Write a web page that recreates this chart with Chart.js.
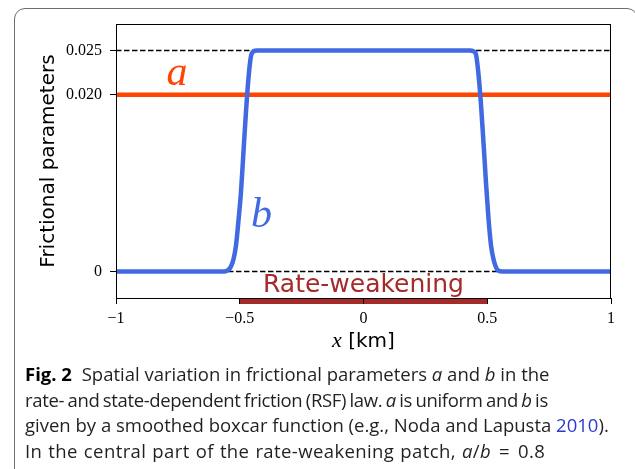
<!DOCTYPE html>
<html>
<head>
<meta charset="utf-8">
<script src="https://cdn.jsdelivr.net/npm/chart.js@4.4.0/dist/chart.umd.min.js"></script>
<style>
  html, body { margin: 0; padding: 0; background: #fff; }
  body { width: 635px; height: 469px; overflow: hidden; position: relative; }
  #frame { position: absolute; left: 14px; top: 8px; width: 622px; height: 540px;
           border: 1px solid #6e6e6e; border-radius: 11px; }
  #plot { position: absolute; left: 0; top: 0; }
  #caption { position: absolute; left: 25px; top: 361px; font-family: "Open Sans", sans-serif;
             font-size: 18.5px; line-height: 25.7px; color: #231f20; white-space: nowrap; }
  #caption b { font-weight: 700; color: #000; margin-right: 5px; }
  #caption .cite { color: #2b3bd0; }
  #caption .l2 { letter-spacing: -0.35px; word-spacing: -1px; }
  #caption .l4 { letter-spacing: 0.4px; word-spacing: 0.8px; }
  #caption .eq { display: inline-block; margin: 0 8px; }
</style>
</head>
<body>
<div id="frame"></div>
<canvas id="plot" width="635" height="469"></canvas>
<div id="caption">
  <div><b>Fig. 2</b> Spatial variation in frictional parameters <i>a</i> and <i>b</i> in the</div>
  <div class="l2">rate- and state-dependent friction (RSF) law. <i>a</i> is uniform and <i>b</i> is</div>
  <div>given by a smoothed boxcar function (e.g., Noda and Lapusta <span class="cite">2010</span>).</div>
  <div class="l4">In the central part of the rate-weakening patch, <i>a</i>/<i>b</i><span class="eq">=</span>0.8</div>
</div>
<script>
// b along the fault (smoothed boxcar), x in km
let x_km = [-1, -0.56, -0.545, -0.535, -0.525, -0.515, -0.505, -0.495, -0.485, -0.475, -0.465, -0.455, -0.445, -0.43,
            0, 0.43, 0.445, 0.455, 0.465, 0.475, 0.485, 0.495, 0.505, 0.515, 0.525, 0.535, 0.545, 0.56, 1];
let b_val = [0, 0, 0.0002, 0.0006, 0.0014, 0.0030, 0.0058, 0.0090, 0.0135, 0.0180, 0.0218, 0.0243, 0.0249, 0.025,
             0.025, 0.025, 0.0249, 0.0245, 0.0222, 0.0188, 0.0145, 0.0100, 0.0060, 0.0030, 0.0014, 0.0005, 0.0001, 0, 0];

// a is uniform
let a_x = [-1, 1];
let a_val = [0.02, 0.02];

// dashed reference levels
let ref_x = [-1, 1];
let ref_levels = [0.025, 0];

// rate-weakening patch
let patch_km = [-0.5, 0.5];

let y_ticks = [0, 0.020, 0.025];
let y_tick_labels = ['0', '0.020', '0.025'];
let x_ticks = [-1, -0.5, 0, 0.5, 1];
let x_tick_labels = ['\u22121', '\u22120.5', '0', '0.5', '1'];

let warna_a = '#ff4500';
let warna_b = '#4169e1';
let warna_patch = '#a52a2a';
let serif = '"Liberation Serif", serif';

function xy(xs, ys) {
    return xs.map((v, i) => ({ x: v, y: ys[i] }));
}

let datasets = [
    {
        data: xy(x_km, b_val),
        borderColor: warna_b,
        borderWidth: 4.5,
        cubicInterpolationMode: 'monotone',
        borderJoinStyle: 'round',
        pointRadius: 0,
        order: 0
    },
    {
        data: xy(a_x, a_val),
        borderColor: warna_a,
        borderWidth: 4.5,
        pointRadius: 0,
        order: 1
    }
];
ref_levels.forEach(function (lv) {
    datasets.push({
        data: xy(ref_x, ref_x.map(() => lv)),
        borderColor: '#000',
        borderWidth: 1.4,
        borderDash: [5.5, 2.5],
        pointRadius: 0,
        order: 2
    });
});

// frame, patch bar, curve names and the x label
let hiasan = {
    id: 'hiasan',
    beforeDraw(chart) {
        let ctx = chart.ctx, ca = chart.chartArea, sx = chart.scales.x;
        let x0 = sx.getPixelForValue(patch_km[0]);
        let x1 = sx.getPixelForValue(patch_km[1]);
        ctx.save();
        ctx.fillStyle = warna_patch;
        ctx.fillRect(x0, ca.bottom, x1 - x0, 6);
        ctx.restore();
    },
    afterDatasetsDraw(chart) {
        let ctx = chart.ctx, ca = chart.chartArea, sx = chart.scales.x, sy = chart.scales.y;
        ctx.save();
        ctx.strokeStyle = '#000';
        ctx.lineWidth = 1;
        ctx.strokeRect(ca.left + 0.5, ca.top + 0.5, ca.right - ca.left - 1, ca.bottom - ca.top);

        ctx.textAlign = 'center';
        ctx.textBaseline = 'alphabetic';
        ctx.fillStyle = warna_patch;
        ctx.font = '25px "DejaVu Sans"';
        ctx.fillText('Rate-weakening', sx.getPixelForValue(0), sy.getPixelForValue(-0.0023));

        ctx.font = 'italic 42px ' + serif;
        ctx.fillStyle = warna_a;
        ctx.fillText('a', sx.getPixelForValue(-0.754), sy.getPixelForValue(0.0211));
        ctx.fillStyle = warna_b;
        ctx.fillText('b', sx.getPixelForValue(-0.412), sy.getPixelForValue(0.0050));

        // x [km] : italic math x followed by plain text
        let cx = (ca.left + ca.right) / 2, by = 347;
        ctx.fillStyle = '#000';
        ctx.textAlign = 'left';
        ctx.font = 'italic 22px ' + serif;
        let w1 = ctx.measureText('x').width;
        ctx.font = '20px "DejaVu Sans"';
        let w2 = ctx.measureText(' [km]').width;
        let start = cx - (w1 + w2) / 2;
        ctx.font = 'italic 22px ' + serif;
        ctx.fillText('x', start, by);
        ctx.font = '20px "DejaVu Sans"';
        ctx.fillText(' [km]', start + w1, by);
        ctx.restore();
    }
};

let ctx = document.getElementById('plot').getContext('2d');
let chart = new Chart(ctx, {
    type: 'line',
    data: { datasets: datasets },
    plugins: [hiasan],
    options: {
        responsive: false,
        animation: false,
        layout: { padding: { left: 0, top: 24, right: 24, bottom: 131 } },
        plugins: { legend: { display: false }, tooltip: { enabled: false } },
        scales: {
            x: {
                type: 'linear',
                min: -1,
                max: 1,
                afterBuildTicks: (s) => { s.ticks = x_ticks.map(v => ({ value: v })); },
                afterFit: (s) => { s.height = 40; },
                border: { display: false },
                grid: { drawOnChartArea: false, drawTicks: true, tickLength: 6, color: '#000', tickWidth: 1 },
                ticks: {
                    color: '#000',
                    font: { family: 'Liberation Serif', size: 16 },
                    padding: 5,
                    maxRotation: 0,
                    callback: (v, i) => x_tick_labels[i]
                }
            },
            y: {
                min: -0.003,
                max: 0.028,
                afterBuildTicks: (s) => { s.ticks = y_ticks.map(v => ({ value: v })); },
                afterFit: (s) => { s.width = 116; },
                border: { display: false },
                grid: { drawOnChartArea: false, drawTicks: true, tickLength: 6, color: '#000', tickWidth: 1 },
                ticks: {
                    color: '#000',
                    font: { family: 'Liberation Serif', size: 16 },
                    padding: 8,
                    callback: (v, i) => y_tick_labels[i]
                },
                title: {
                    display: true,
                    text: 'Frictional parameters',
                    color: '#000',
                    font: { family: 'DejaVu Sans', size: 20 },
                    padding: { top: 37, bottom: 0 }
                }
            }
        }
    }
});
</script>
</body>
</html>
